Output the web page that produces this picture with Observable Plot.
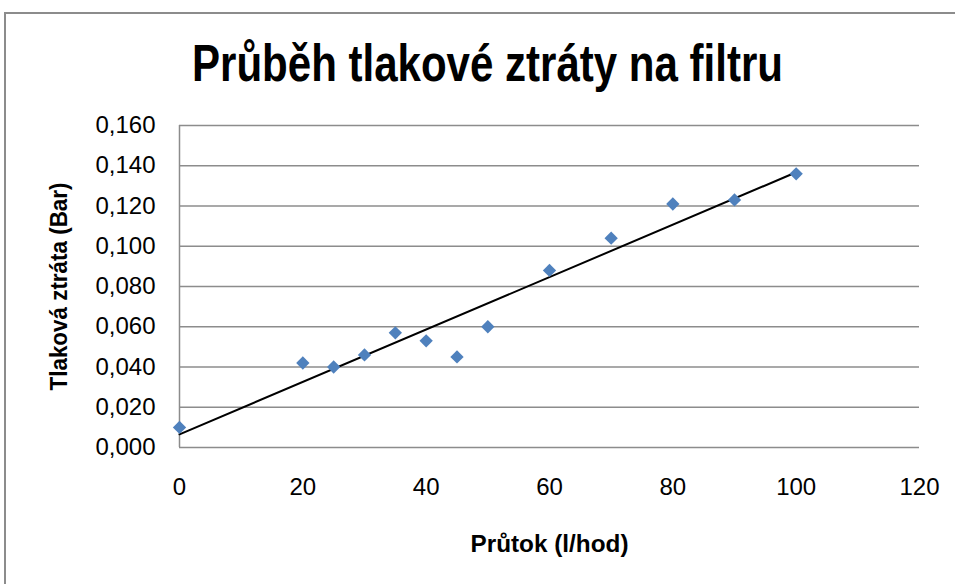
<!DOCTYPE html>
<html>
<head>
<meta charset="utf-8">
<script src="https://cdn.jsdelivr.net/npm/d3@7"></script>
<script src="https://cdn.jsdelivr.net/npm/@observablehq/plot@0.6"></script>
<style>
  html, body { margin: 0; padding: 0; background: #fff; }
  #wrap { position: relative; width: 955px; height: 584px; overflow: hidden; font-family: "Liberation Sans", Arial, sans-serif; }
  #frame { position: absolute; left: 4px; top: 12px; width: 960px; height: 600px; border-left: 2px solid #8c8c8c; border-top: 2px solid #8c8c8c; }
  #title { position: absolute; left: 192px; top: 37px; font-weight: bold; font-size: 52px; color: #000; line-height: 1; white-space: nowrap; transform-origin: 0 0; }
  #chart { position: absolute; left: 0; top: 0; }
</style>
</head>
<body>
<div id="wrap">
  <div id="frame"></div>
  <div id="chart"></div>
  <span id="title"></span>
</div>
<script>
const title = "Průběh tlakové ztráty na filtru";
const xLabel = "Průtok (l/hod)";
const yLabel = "Tlaková ztráta (Bar)";
const flow = [0, 20, 25, 30, 35, 40, 45, 50, 60, 70, 80, 90, 100];
const loss = [0.010, 0.042, 0.040, 0.046, 0.057, 0.053, 0.045, 0.060, 0.088, 0.104, 0.121, 0.123, 0.136];
const xTicks = [0, 20, 40, 60, 80, 100, 120];
const yTicks = [0, 0.02, 0.04, 0.06, 0.08, 0.10, 0.12, 0.14, 0.16];

const data = flow.map((x, i) => ({x, y: loss[i]}));
const fmtY = d => d.toFixed(3).replace(".", ",");

const plot = Plot.plot({
  width: 955,
  height: 584,
  marginLeft: 179,
  marginRight: 36,
  marginTop: 125,
  marginBottom: 137,
  style: { fontFamily: '"Liberation Sans", Arial, sans-serif', fontSize: "24px", background: "transparent", color: "#000" },
  x: { domain: [0, 120], ticks: xTicks, tickSize: 0, tickPadding: 30, label: xLabel, labelAnchor: "center", labelOffset: 104 },
  y: { domain: [0, 0.16], ticks: yTicks, tickSize: 0, tickPadding: 24, tickFormat: fmtY, label: yLabel, labelAnchor: "center", labelOffset: 129 },
  marks: [
    Plot.ruleY(yTicks, { stroke: "#8c8c8c", strokeWidth: 1.5, strokeOpacity: 1 }),
    Plot.ruleX([0], { stroke: "#8c8c8c", strokeWidth: 1.5, strokeOpacity: 1 }),
    Plot.linearRegressionY(data, { x: "x", y: "y", ci: 0, stroke: "#000", strokeWidth: 2 }),
    Plot.dot(data, { x: "x", y: "y", symbol: "diamond2", r: 6, fill: "#4f81bd", stroke: "none" })
  ]
});
document.getElementById("chart").appendChild(plot);

// axis labels: bold, condensed, no arrows
function fitLabel(sel, text, target) {
  const t = plot.querySelector(sel + " text");
  if (!t) return;
  t.textContent = text;
  t.setAttribute("font-weight", "bold");
  t.setAttribute("font-size", "23px");
  t.setAttribute("textLength", target);
  t.setAttribute("lengthAdjust", "spacingAndGlyphs");
}
fitLabel('[aria-label="x-axis label"]', xLabel, 158);
fitLabel('[aria-label="y-axis label"]', yLabel, 208);

const tEl = document.getElementById("title");
tEl.textContent = title;
const w = tEl.getBoundingClientRect().width;
tEl.style.transform = `scaleX(${591 / w})`;
</script>
</body>
</html>
